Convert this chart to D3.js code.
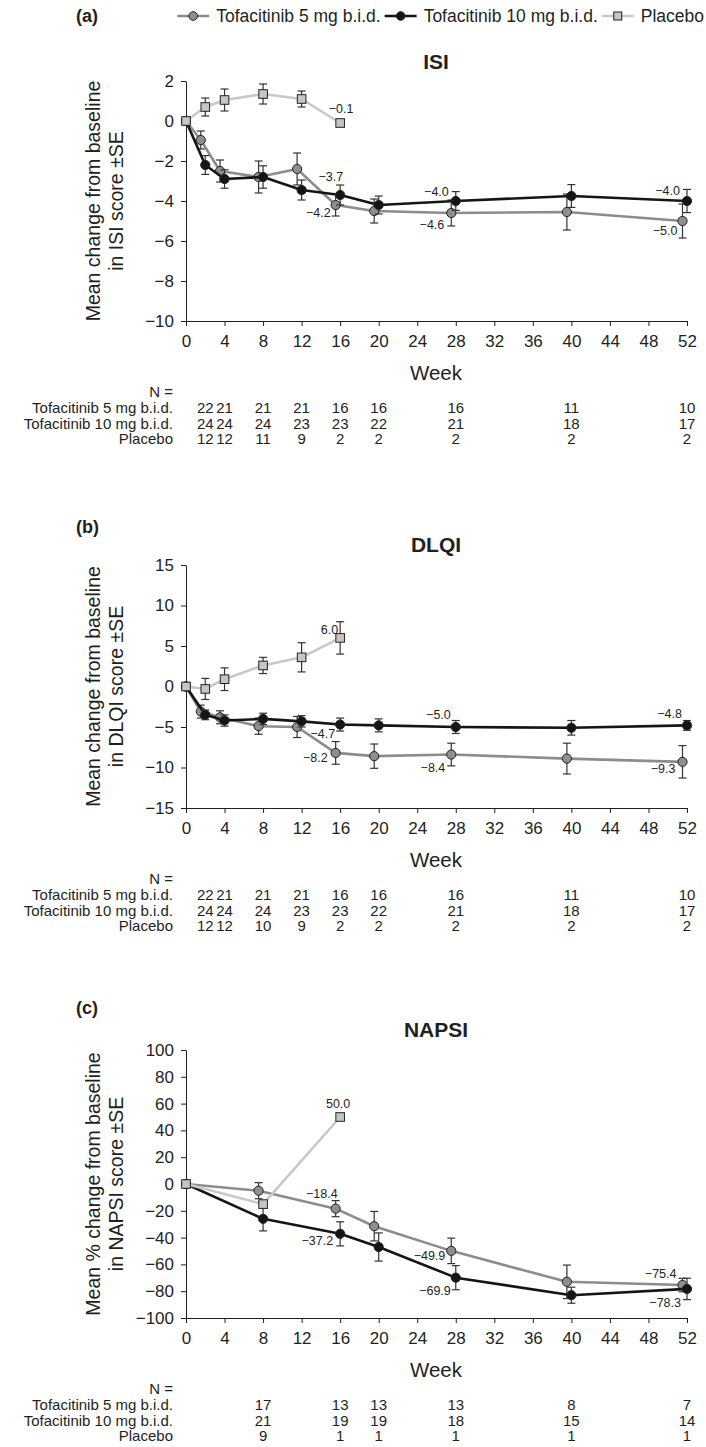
<!DOCTYPE html>
<html>
<head>
<meta charset="utf-8">
<script src="https://cdn.jsdelivr.net/npm/d3@7"></script>
<style>
  body { margin: 0; background: #fff; }
  text { font-family: "Liberation Sans", Arial, Helvetica, sans-serif; fill: #231f20; }
</style>
</head>
<body>
<div id="chart"></div>
<script>
// ---- data ----
const seriesNames = ["Tofacitinib 5 mg b.i.d.", "Tofacitinib 10 mg b.i.d.", "Placebo"];
const weekTicks = [0, 4, 8, 12, 16, 20, 24, 28, 32, 36, 40, 44, 48, 52];

// ISI
const isiWeeks = [0, 2, 4, 8, 12, 16, 20, 28, 40, 52];
const isiTofa5 = [0, -0.95, -2.5, -2.8, -2.4, -4.2, -4.5, -4.6, -4.55, -5.0];
const isiTofa5Se = [null, 0.45, 0.55, 0.8, 0.8, 0.55, 0.6, 0.65, 0.9, 0.85];
const isiTofa10 = [0, -2.2, -2.9, -2.8, -3.45, -3.7, -4.2, -4.0, -3.75, -4.0];
const isiTofa10Se = [null, 0.47, 0.46, 0.56, 0.5, 0.5, 0.45, 0.47, 0.57, 0.58];
const isiPboWeeks = [0, 2, 4, 8, 12, 16];
const isiPbo = [0, 0.7, 1.05, 1.35, 1.1, -0.1];
const isiPboSe = [null, 0.45, 0.55, 0.5, 0.4, null];

// DLQI
const dlqiWeeks = [0, 2, 4, 8, 12, 16, 20, 28, 40, 52];
const dlqiTofa5 = [0, -3.1, -3.8, -4.9, -5.0, -8.2, -8.6, -8.4, -8.9, -9.3];
const dlqiTofa5Se = [null, 0.8, 0.8, 1.0, 1.3, 1.4, 1.5, 1.4, 1.9, 2.0];
const dlqiTofa10 = [0, -3.5, -4.2, -4.0, -4.3, -4.7, -4.8, -5.0, -5.1, -4.8];
const dlqiTofa10Se = [null, 0.6, 0.7, 0.7, 0.7, 0.8, 0.8, 0.8, 0.9, 0.6];
const dlqiPboWeeks = [0, 2, 4, 8, 12, 16];
const dlqiPbo = [0, -0.3, 0.9, 2.6, 3.6, 6.0];
const dlqiPboSe = [null, 1.3, 1.4, 1.0, 1.8, 2.0];

// NAPSI
const napsiWeeks = [0, 8, 16, 20, 28, 40, 52];
const napsiTofa5 = [0, -5.0, -18.4, -31.5, -49.9, -73.0, -75.4];
const napsiTofa5Se = [null, 6, 6, 11, 9.5, 12.5, 5];
const napsiTofa10 = [0, -26, -37.2, -47, -69.9, -83, -78.3];
const napsiTofa10Se = [null, 9, 9, 10.5, 9, 6, 8];
const napsiPboWeeks = [0, 8, 16];
const napsiPbo = [0, -15, 50.0];
const napsiPboSe = [null, null, null];

// N at risk
const nWeeks = [2, 4, 8, 12, 16, 20, 28, 40, 52];
const isiNTofa5 = [22, 21, 21, 21, 16, 16, 16, 11, 10];
const isiNTofa10 = [24, 24, 24, 23, 23, 22, 21, 18, 17];
const isiNPbo = [12, 12, 11, 9, 2, 2, 2, 2, 2];
const dlqiNTofa5 = [22, 21, 21, 21, 16, 16, 16, 11, 10];
const dlqiNTofa10 = [24, 24, 24, 23, 23, 22, 21, 18, 17];
const dlqiNPbo = [12, 12, 10, 9, 2, 2, 2, 2, 2];
const napsiNWeeks = [8, 16, 20, 28, 40, 52];
const napsiNTofa5 = [17, 13, 13, 13, 8, 7];
const napsiNTofa10 = [21, 19, 19, 18, 15, 14];
const napsiNPbo = [9, 1, 1, 1, 1, 1];

// ---- styles ----
const styles = {
  t5:  {line: "#8c8c8c", fill: "#8e8e8e", shape: "circle", shift: -4.5},
  t10: {line: "#151515", fill: "#151515", shape: "circle", shift: 0},
  pbo: {line: "#c8c8c8", fill: "#c6c6c6", shape: "square", shift: 0}
};

const zip = (w, v, s) => w.map((wk, i) => ({week: wk, val: v[i], se: s[i]}));

const panels = [
  {
    letter: "(a)", letterY: 16, title: "ISI", titleY: 62,
    yLabel: ["Mean change from baseline", "in ISI score \u00b1SE"],
    top: 81, bottom: 321, domain: [-10, 2], ticks: d3.range(-10, 3, 2),
    series: {t5: zip(isiWeeks, isiTofa5, isiTofa5Se), t10: zip(isiWeeks, isiTofa10, isiTofa10Se), pbo: zip(isiPboWeeks, isiPbo, isiPboSe)},
    nWeeks: nWeeks, n: [isiNTofa5, isiNTofa10, isiNPbo],
    labels: [
      {s: "pbo", week: 16, dx: 1, dy: -14, anchor: "middle"},
      {s: "t10", week: 16, dx: 3, dy: -18, anchor: "end"},
      {s: "t5", week: 16, dx: -5, dy: 8, anchor: "end"},
      {s: "t10", week: 28, dx: -7, dy: -9, anchor: "end"},
      {s: "t5", week: 28, dx: -7, dy: 12, anchor: "end"},
      {s: "t10", week: 52, dx: -7, dy: -10, anchor: "end"},
      {s: "t5", week: 52, dx: -5, dy: 10, anchor: "end"}
    ]
  },
  {
    letter: "(b)", letterY: 527, title: "DLQI", titleY: 545,
    yLabel: ["Mean change from baseline", "in DLQI score \u00b1SE"],
    top: 565, bottom: 808, domain: [-15, 15], ticks: d3.range(-15, 16, 5),
    series: {t5: zip(dlqiWeeks, dlqiTofa5, dlqiTofa5Se), t10: zip(dlqiWeeks, dlqiTofa10, dlqiTofa10Se), pbo: zip(dlqiPboWeeks, dlqiPbo, dlqiPboSe)},
    nWeeks: nWeeks, n: [dlqiNTofa5, dlqiNTofa10, dlqiNPbo],
    labels: [
      {s: "pbo", week: 16, dx: -2, dy: -8, anchor: "end"},
      {s: "t10", week: 16, dx: -5, dy: 9, anchor: "end"},
      {s: "t5", week: 16, dx: -8, dy: 5, anchor: "end"},
      {s: "t10", week: 28, dx: -5, dy: -12, anchor: "end"},
      {s: "t5", week: 28, dx: -6, dy: 13, anchor: "end"},
      {s: "t10", week: 52, dx: -5, dy: -12, anchor: "end"},
      {s: "t5", week: 52, dx: -7, dy: 7, anchor: "end"}
    ]
  },
  {
    letter: "(c)", letterY: 1008, title: "NAPSI", titleY: 1030,
    yLabel: ["Mean % change from baseline", "in NAPSI score \u00b1SE"],
    top: 1050, bottom: 1318, domain: [-100, 100], ticks: d3.range(-100, 101, 20),
    series: {t5: zip(napsiWeeks, napsiTofa5, napsiTofa5Se), t10: zip(napsiWeeks, napsiTofa10, napsiTofa10Se), pbo: zip(napsiPboWeeks, napsiPbo, napsiPboSe)},
    nWeeks: napsiNWeeks, n: [napsiNTofa5, napsiNTofa10, napsiNPbo],
    labels: [
      {s: "pbo", week: 16, dx: -2, dy: -13, anchor: "middle"},
      {s: "t5", week: 16, dx: 2, dy: -15, anchor: "end"},
      {s: "t10", week: 16, dx: -7, dy: 7, anchor: "end"},
      {s: "t5", week: 28, dx: -6, dy: 5, anchor: "end"},
      {s: "t10", week: 28, dx: -5, dy: 13, anchor: "end"},
      {s: "t5", week: 52, dx: -6, dy: -11, anchor: "end"},
      {s: "t10", week: 52, dx: -6, dy: 14, anchor: "end"}
    ]
  }
];

const svg = d3.select("#chart").append("svg")
  .attr("width", 706)
  .attr("height", 1447);

const x = d3.scaleLinear().domain([0, 52]).range([186, 687]);
const fmt = d3.format(".1f");
const axisColor = "#231f20";

panels.forEach(drawPanel);
drawLegend();

function drawPanel(p) {
  const g = svg.append("g");
  const y = d3.scaleLinear().domain(p.domain).range([p.bottom, p.top]);

  g.append("text").attr("x", 76).attr("y", p.letterY).attr("dy", "0.35em")
    .style("font-weight", "bold").style("font-size", "18px").text(p.letter);
  g.append("text").attr("x", 436).attr("y", p.titleY).attr("dy", "0.35em")
    .attr("text-anchor", "middle").style("font-weight", "bold").style("font-size", "21px").text(p.title);

  // axes
  const yAxis = g.append("g").attr("transform", `translate(${x(0)},0)`)
    .call(d3.axisLeft(y).tickValues(p.ticks).tickSize(5).tickPadding(7).tickSizeOuter(0));
  const xAxis = g.append("g").attr("transform", `translate(0,${p.bottom})`)
    .call(d3.axisBottom(x).tickValues(weekTicks).tickSize(5).tickPadding(9).tickSizeOuter(0));
  [yAxis, xAxis].forEach(a => {
    a.select(".domain").attr("stroke", axisColor);
    a.selectAll(".tick line").attr("stroke", axisColor);
    a.selectAll(".tick text").style("font-size", "17px").attr("fill", axisColor)
      .style("font-family", "'Liberation Sans', Arial, sans-serif");
  });

  // y label
  const yl = g.append("text")
    .attr("transform", `translate(0,${(p.top + p.bottom) / 2}) rotate(-90)`)
    .attr("text-anchor", "middle").style("font-size", "19.5px");
  yl.append("tspan").attr("x", 0).attr("y", 100).text(p.yLabel[0]);
  yl.append("tspan").attr("x", 0).attr("y", 123).text(p.yLabel[1]);

  // x label
  g.append("text").attr("x", 436).attr("y", p.bottom + 52).attr("dy", "0.35em")
    .attr("text-anchor", "middle").style("font-size", "20.5px").text("Week");

  // series
  ["t5", "t10", "pbo"].forEach(key => {
    const st = styles[key];
    const data = p.series[key];
    const px = d => x(d.week) + (d.week === 0 ? 0 : st.shift);
    const sg = g.append("g");

    sg.append("path").datum(data)
      .attr("fill", "none").attr("stroke", st.line).attr("stroke-width", 2.6)
      .attr("stroke-linejoin", "round")
      .attr("d", d3.line().x(px).y(d => y(d.val)));

    const eb = sg.selectAll(".err").data(data.filter(d => d.se != null))
      .enter().append("g").attr("stroke", "#333").attr("stroke-width", 1.2);
    eb.append("line").attr("x1", px).attr("x2", px)
      .attr("y1", d => y(d.val - d.se)).attr("y2", d => y(d.val + d.se));
    eb.append("line").attr("x1", d => px(d) - 4).attr("x2", d => px(d) + 4)
      .attr("y1", d => y(d.val + d.se)).attr("y2", d => y(d.val + d.se));
    eb.append("line").attr("x1", d => px(d) - 4).attr("x2", d => px(d) + 4)
      .attr("y1", d => y(d.val - d.se)).attr("y2", d => y(d.val - d.se));

    if (st.shape === "circle") {
      sg.selectAll("circle").data(data).enter().append("circle")
        .attr("cx", px).attr("cy", d => y(d.val)).attr("r", 4.6)
        .attr("fill", st.fill).attr("stroke", "#222").attr("stroke-width", 1);
    } else {
      sg.selectAll("rect").data(data).enter().append("rect")
        .attr("x", d => px(d) - 4.3).attr("y", d => y(d.val) - 4.3)
        .attr("width", 8.6).attr("height", 8.6)
        .attr("fill", st.fill).attr("stroke", "#222").attr("stroke-width", 1);
    }
  });

  // value labels
  p.labels.forEach(l => {
    const st = styles[l.s];
    const d = p.series[l.s].find(e => e.week === l.week);
    g.append("text")
      .attr("x", x(d.week) + st.shift + l.dx)
      .attr("y", y(d.val) + l.dy).attr("dy", "0.35em")
      .attr("text-anchor", l.anchor)
      .style("font-size", "12.5px").attr("fill", "#333")
      .text(fmt(d.val));
  });

  // N table
  g.append("text").attr("x", 173).attr("y", p.bottom + 71).attr("dy", "0.35em")
    .attr("text-anchor", "end").style("font-size", "15px").text("N =");
  seriesNames.forEach((name, r) => {
    const ry = p.bottom + 87 + r * 15.5;
    g.append("text").attr("x", 173).attr("y", ry).attr("dy", "0.35em")
      .attr("text-anchor", "end").style("font-size", "15px").text(name);
    g.selectAll(null).data(p.n[r]).enter().append("text")
      .attr("x", (d, i) => x(p.nWeeks[i])).attr("y", ry).attr("dy", "0.35em")
      .attr("text-anchor", "middle").style("font-size", "15px").text(d => d);
  });
}

function drawLegend() {
  // legend row, right-aligned to the page edge
  const lg = svg.append("g");
  const ly = 16, end = 704, symW = 32, textGap = 7, gap = 4;
  const items = ["t5", "t10", "pbo"].map((key, i) => {
    const t = lg.append("text").attr("y", ly).attr("dy", "0.35em")
      .style("font-size", "17.5px").text(seriesNames[i]);
    return {key, t, w: t.node().getComputedTextLength()};
  });
  const total = d3.sum(items, d => symW + textGap + d.w) + gap * (items.length - 1);
  let cx = end - total;
  items.forEach(it => {
    const st = styles[it.key];
    lg.append("line").attr("x1", cx).attr("x2", cx + symW).attr("y1", ly).attr("y2", ly)
      .attr("stroke", st.line).attr("stroke-width", 2.6);
    if (st.shape === "circle") {
      lg.append("circle").attr("cx", cx + symW / 2).attr("cy", ly).attr("r", 4.3)
        .attr("fill", st.fill).attr("stroke", "#222");
    } else {
      lg.append("rect").attr("x", cx + symW / 2 - 4).attr("y", ly - 4).attr("width", 8).attr("height", 8)
        .attr("fill", st.fill).attr("stroke", "#222");
    }
    it.t.attr("x", cx + symW + textGap);
    cx += symW + textGap + it.w + gap;
  });
}
</script>
</body>
</html>
